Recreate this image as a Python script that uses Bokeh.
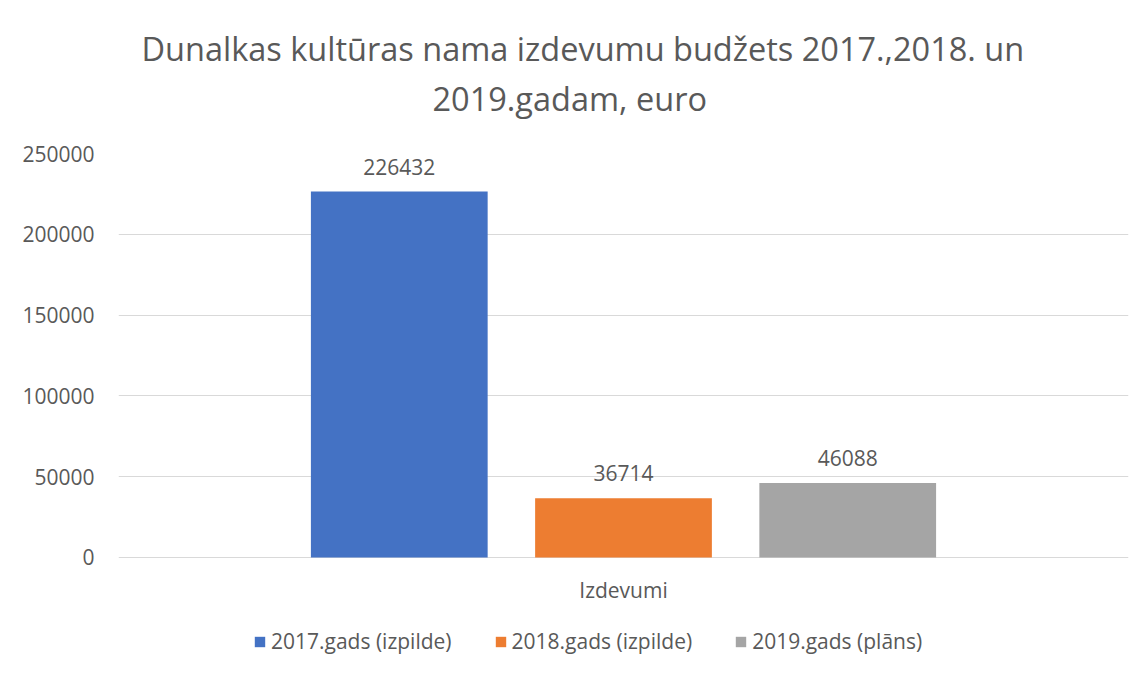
from bokeh.plotting import figure
from bokeh.models import ColumnDataSource, FactorRange, Legend, LegendItem, Title, NumeralTickFormatter
from bokeh.transform import dodge
from bokeh.core.properties import value
from bokeh.embed import file_html
from bokeh.resources import INLINE

categories = ["Izdevumi"]
series_names = ["2017.gads (izpilde)", "2018.gads (izpilde)", "2019.gads (plāns)"]
values_2017 = [226432]
values_2018 = [36714]
values_2019 = [46088]
colors = ["#4472C4", "#ED7D31", "#A5A5A5"]
y_ticks = [0, 50000, 100000, 150000, 200000, 250000]

FONT = "Open Sans"
TXT = "#595959"

source = ColumnDataSource(dict(cat=categories, zero=[0] * len(categories),
                               v2017=values_2017, v2018=values_2018, v2019=values_2019,
                               l2017=[str(v) for v in values_2017],
                               l2018=[str(v) for v in values_2018],
                               l2019=[str(v) for v in values_2019]))

# extra room under zero holds the category label and the legend inside the frame
y_bottom = -66832
p = figure(x_range=FactorRange(*categories, range_padding=0), y_range=(y_bottom, 250000),
           width=1146, height=675, output_backend="svg", toolbar_location=None,
           min_border_left=118, min_border_right=18, min_border_top=153, min_border_bottom=10)
p.x_range.range_padding = 0
p.outline_line_color = None
p.background_fill_color = "white"
p.border_fill_color = "white"

offsets = [-0.222, 0.0, 0.222]
cols = ["v2017", "v2018", "v2019"]
labs = ["l2017", "l2018", "l2019"]
items = []
for off, col, lab, c, name in zip(offsets, cols, labs, colors, series_names):
    r = p.vbar(x=dodge("cat", off, range=p.x_range), top=col, width=0.175, source=source,
               fill_color=c, line_color=None)
    p.text(x=dodge("cat", off, range=p.x_range), y=col, text=lab, source=source,
           text_align="center", text_baseline="bottom", y_offset=-17,
           text_font=value(FONT), text_font_size="21px", text_color=TXT)
    items.append(LegendItem(label=name, renderers=[r]))

# category label under the zero line
p.text(x="cat", y="zero", text="cat", source=source, text_align="center", text_baseline="middle",
       y_offset=33, text_font=value(FONT), text_font_size="21px", text_color=TXT)

# axes
p.xaxis.visible = False
p.yaxis.ticker = y_ticks
p.yaxis.formatter = NumeralTickFormatter(format="0")
p.yaxis.axis_line_color = None
p.yaxis.major_tick_line_color = None
p.yaxis.minor_tick_line_color = None
p.yaxis.major_label_text_font = FONT
p.yaxis.major_label_text_font_size = "21px"
p.yaxis.major_label_text_color = TXT
p.yaxis.major_label_standoff = 18

p.xgrid.grid_line_color = None
p.ygrid.grid_line_color = "#D9D9D9"
p.ygrid.grid_line_width = 1

legend = Legend(items=items, orientation="horizontal", location=(135, 10),
                label_text_font=FONT, label_text_font_size="21px", label_text_color=TXT,
                glyph_width=13, glyph_height=13, spacing=42, label_standoff=5,
                border_line_color=None, background_fill_alpha=0, margin=0, padding=0)
p.add_layout(legend, "center")

t2 = Title(text="2019.gadam, euro", align="left", text_font=FONT, text_font_size="32.5px",
           text_font_style="normal", text_color=TXT, offset=314, standoff=65)
t1 = Title(text="Dunalkas kultūras nama izdevumu budžets 2017.,2018. un", align="left",
           text_font=FONT, text_font_size="32.5px", text_font_style="normal", text_color=TXT,
           offset=23, standoff=-59)
p.add_layout(t2, "above")
p.add_layout(t1, "above")

open("out.html", "w").write(file_html(p, INLINE))
